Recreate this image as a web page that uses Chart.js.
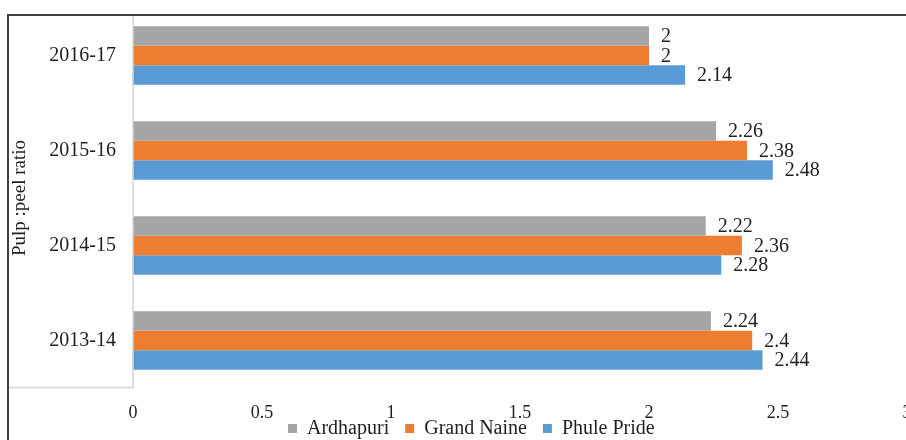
<!DOCTYPE html>
<html>
<head>
<meta charset="utf-8">
<script src="https://cdn.jsdelivr.net/npm/chart.js@4/dist/chart.umd.min.js"></script>
<style>
  html, body { margin: 0; padding: 0; background: #fff; overflow: hidden; width: 906px; height: 440px; }
  #wrap { width: 960px; height: 440px; }
</style>
</head>
<body>
<div id="wrap"><canvas id="c" width="960" height="440"></canvas></div>
<script>
// Pulp : peel ratio of three banana cultivars by season
const seasons = ['2016-17', '2015-16', '2014-15', '2013-14'];
const ardhapuri = [2, 2.26, 2.22, 2.24];
const grandNaine = [2, 2.38, 2.36, 2.4];
const phulePride = [2.14, 2.48, 2.28, 2.44];
const seriesNames = ['Ardhapuri', 'Grand Naine', 'Phule Pride'];
const seriesColors = ['#A5A5A5', '#ED7D31', '#5B9BD5'];
const xMin = 0, xMax = 3, xStep = 0.5;

const SERIF = '"Liberation Serif", "Times New Roman", serif';
const TEXT = '#1f1f1f';
const PLOT_LEFT = 133;
const PLOT_BOTTOM = 388;
const LEGEND_X = 288;       // left edge of the first legend swatch
const LEGEND_MID_Y = 428.5; // vertical centre of the legend row

// Value labels printed just past the end of each bar
const valueLabels = {
  id: 'valueLabels',
  afterDatasetsDraw(chart) {
    const ctx = chart.ctx;
    ctx.save();
    ctx.font = '20px ' + SERIF;
    ctx.fillStyle = TEXT;
    ctx.textAlign = 'left';
    ctx.textBaseline = 'middle';
    chart.data.datasets.forEach((ds, i) => {
      chart.getDatasetMeta(i).data.forEach((bar, j) => {
        ctx.fillText(String(ds.data[j]), bar.x + 12, bar.y + 1);
      });
    });
    ctx.restore();
  }
};

// Outer frame and the boxed axis-label panel
const frame = {
  id: 'frame',
  afterDraw(chart) {
    const ctx = chart.ctx;
    const area = chart.chartArea;
    ctx.save();
    ctx.strokeStyle = '#d4d4d4';
    ctx.lineWidth = 1.5;
    ctx.beginPath();
    ctx.moveTo(area.left, 15);
    ctx.lineTo(area.left, area.bottom - 0.5);
    ctx.lineTo(8, area.bottom - 0.5);
    ctx.stroke();
    ctx.strokeStyle = '#404040';
    ctx.lineWidth = 2;
    ctx.beginPath();
    ctx.moveTo(8, chart.height);
    ctx.lineTo(8, 15);
    ctx.lineTo(chart.width, 15);
    ctx.stroke();
    ctx.restore();
  }
};

// The legend row overlaps the bottom of the axis band: it takes no layout
// height of its own and is placed by hand once the layout is done.
const legendPlacement = {
  id: 'legendPlacement',
  afterInit(chart) {
    const lg = chart.legend;
    const fit = lg.fit;
    lg.fit = function () {
      fit.call(this);
      this._rowHeight = this.height;
      this.height = 0;
    };
  },
  afterLayout(chart) {
    const lg = chart.legend;
    const labels = lg.options.labels;
    const pad = labels.padding;
    const itemH = Math.max(labels.font.size, labels.boxHeight);
    lg.left = LEGEND_X - pad;
    lg.right = lg.left + 700;
    lg.top = LEGEND_MID_Y - pad - itemH / 2;
    lg.bottom = lg.top + (lg._rowHeight || 50);
    lg.height = lg.bottom - lg.top;
    lg.width = lg.right - lg.left;
  }
};

new Chart(document.getElementById('c'), {
  type: 'bar',
  data: {
    labels: seasons,
    datasets: [ardhapuri, grandNaine, phulePride].map((d, i) => ({
      label: seriesNames[i],
      data: d,
      backgroundColor: seriesColors[i],
      borderWidth: 0,
      barPercentage: 1,
      categoryPercentage: 0.617
    }))
  },
  options: {
    indexAxis: 'y',
    responsive: false,
    animation: false,
    layout: { padding: { left: 0, top: 8, right: 53, bottom: 0 } },
    scales: {
      x: {
        min: xMin,
        max: xMax,
        afterFit(scale) {
          scale.height = 440 - PLOT_BOTTOM;
          scale.paddingLeft = 0;
          scale.paddingRight = 0;
        },
        grid: { display: false, drawTicks: false },
        border: { display: false },
        ticks: {
          stepSize: xStep,
          padding: 14,
          color: TEXT,
          font: { family: SERIF, size: 18 },
          maxRotation: 0,
          autoSkip: false,
          callback: (v) => String(Number(v))
        }
      },
      y: {
        afterFit(scale) {
          scale.width = PLOT_LEFT;
          scale.paddingTop = 0;
          scale.paddingBottom = 0;
        },
        grid: { display: false, drawTicks: false },
        border: { display: false },
        ticks: {
          padding: 17,
          color: TEXT,
          font: { family: SERIF, size: 20 }
        },
        title: {
          display: true,
          text: 'Pulp :peel ratio',
          color: TEXT,
          font: { family: SERIF, size: 19 },
          padding: { top: 9, bottom: 0 }
        }
      }
    },
    plugins: {
      legend: {
        position: 'bottom',
        align: 'start',
        labels: {
          boxWidth: 9,
          boxHeight: 9,
          padding: 16,
          color: TEXT,
          font: { family: SERIF, size: 20 }
        }
      },
      tooltip: { enabled: false }
    }
  },
  plugins: [valueLabels, frame, legendPlacement]
});
</script>
</body>
</html>
